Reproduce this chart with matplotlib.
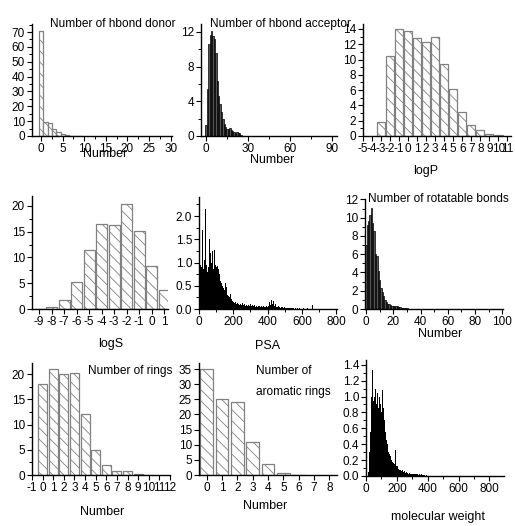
import matplotlib
matplotlib.use("Agg")
import matplotlib.pyplot as plt
from matplotlib.ticker import MultipleLocator, FormatStrFormatter
from matplotlib import font_manager
import numpy as np

# ---------------- data ----------------
donor_x = [0, 1, 2, 3, 4, 5, 6, 7, 8, 9]
donor_y = [70.5, 9.5, 8.5, 4.5, 2.5, 1.2, 0.6, 0.3, 0.15, 0.1]

acc_x = list(range(0, 26))
acc_y = [1.3, 5.4, 10.6, 11.6, 12.1, 11.5, 11.2, 9.6, 6.3, 4.6, 3.7, 2.8, 2.0,
         1.4, 1.0, 0.8, 0.8, 0.9, 0.7, 0.6, 0.5, 0.4, 0.5, 0.4, 0.3, 0.15]

logp_x = [-3, -2, -1, 0, 1, 2, 3, 4, 5, 6, 7, 8, 9, 10]
logp_y = [1.8, 10.5, 14.0, 13.7, 12.8, 12.3, 12.9, 9.4, 6.1, 3.1, 1.5, 0.8, 0.3, 0.1]

logs_x = [-9, -8, -7, -6, -5, -4, -3, -2, -1, 0, 1]
logs_y = [0.05, 0.4, 1.7, 5.3, 11.5, 16.5, 16.3, 20.4, 15.2, 8.4, 3.6]

psa_start = 0
psa_bin = 5
psa_y = [0.45, 0.95, 0.9, 0.75, 1.70, 0.85, 1.05, 2.15, 0.95, 0.8,
         1.1, 0.9, 1.5, 1.2, 1.0, 1.25, 0.85, 1.0, 1.27, 0.95,
         0.9, 0.92, 0.85, 0.75, 0.9, 0.6, 0.55, 0.5, 0.45, 0.4,
         0.55, 0.35, 0.47, 0.3, 0.28, 0.25, 0.32, 0.22, 0.2, 0.18,
         0.15, 0.12, 0.14, 0.1, 0.12, 0.16, 0.1, 0.09, 0.11, 0.08,
         0.12, 0.09, 0.08, 0.1, 0.07, 0.08, 0.06, 0.09, 0.07, 0.06,
         0.1, 0.07, 0.08, 0.06, 0.09, 0.05, 0.07, 0.06, 0.05, 0.07,
         0.06, 0.05, 0.06, 0.04, 0.05, 0.07, 0.05, 0.04, 0.06, 0.05,
         0.12, 0.06, 0.15, 0.08, 0.2, 0.1, 0.17, 0.08, 0.06, 0.1,
         0.05, 0.04, 0.06, 0.05, 0.04, 0.03, 0.05, 0.04, 0.03, 0.04,
         0.03, 0.02, 0.03, 0.02, 0.02, 0.03, 0.02, 0.02, 0.01, 0.02,
         0.02, 0.01, 0.02, 0.01, 0.02, 0.01, 0.01, 0.02, 0.01, 0.01,
         0.01, 0.02, 0.01, 0.01, 0.01, 0.01, 0.02, 0.01, 0.01, 0.01,
         0.01, 0.01, 0.08, 0.01, 0.01, 0.0, 0.01, 0.0, 0.01, 0.0]

rot_x = list(range(0, 41))
rot_y = [7.0, 9.2, 9.6, 10.3, 11.1, 9.4, 8.5, 6.0, 5.8, 4.2, 3.2, 2.3, 1.9, 1.4,
         1.0, 0.8, 0.6, 0.5, 0.4, 0.35, 0.3, 0.3, 0.35, 0.3, 0.25, 0.2, 0.15,
         0.12, 0.1, 0.08, 0.06, 0.05, 0.04, 0.04, 0.03, 0.03, 0.02, 0.02, 0.02,
         0.02, 0.05]

rings_x = [0, 1, 2, 3, 4, 5, 6, 7, 8, 9, 10]
rings_y = [18.0, 21.0, 20.0, 20.2, 12.0, 5.0, 1.9, 0.7, 0.7, 0.2, 0.05]

arom_x = [0, 1, 2, 3, 4, 5, 6]
arom_y = [35.0, 25.2, 24.0, 11.0, 3.5, 0.7, 0.1]

mw_start = 15
mw_bin = 5
mw_y = [0.05, 0.3, 0.55, 0.85, 1.0, 1.34, 0.95, 1.15, 1.0, 1.1,
        0.9, 1.05, 0.95, 0.85, 1.0, 0.9, 1.12, 0.8, 1.08, 0.85,
        0.7, 0.6, 0.55, 0.45, 0.4, 0.35, 0.3, 0.28, 0.25, 0.22,
        0.2, 0.18, 0.16, 0.15, 0.14, 0.33, 0.13, 0.12, 0.1, 0.09,
        0.08, 0.08, 0.07, 0.06, 0.07, 0.05, 0.06, 0.05, 0.04, 0.05,
        0.04, 0.04, 0.03, 0.04, 0.03, 0.03, 0.03, 0.02, 0.03, 0.02,
        0.02, 0.03, 0.02, 0.02, 0.02, 0.01, 0.02, 0.01, 0.02, 0.01,
        0.01, 0.01, 0.01, 0.01, 0.005, 0.01, 0.005, 0.005, 0.005, 0.005]

# ---------------- style ----------------
plt.rcParams['font.family'] = ['Liberation Sans', 'DejaVu Sans']
plt.rcParams['axes.unicode_minus'] = False
plt.rcParams['hatch.linewidth'] = 0.6

names = {f.name for f in font_manager.fontManager.ttflist}
if 'Liberation Sans Narrow' in names:
    TICKFAM = ['Liberation Sans Narrow', 'DejaVu Sans']
    TICKFONT = 9.5
else:
    TICKFAM = ['Liberation Sans', 'DejaVu Sans']
    TICKFONT = 8.5
LABELFONT = 9
TITLEFONT = 8.6

W, H = 515, 526
fig = plt.figure(figsize=(W / 100, H / 100), dpi=100)


def make_ax(x0, x1, y0, y1):
    ax = fig.add_axes([x0 / W, 1 - y1 / H, (x1 - x0) / W, (y1 - y0) / H])
    for s in ('top', 'right'):
        ax.spines[s].set_visible(False)
    for s in ('left', 'bottom'):
        ax.spines[s].set_linewidth(1.0)
    ax.tick_params(which='major', direction='out', length=3.5, width=0.8,
                   labelsize=TICKFONT, pad=1.5)
    ax.tick_params(which='minor', direction='out', length=2, width=0.7)
    ax.patch.set_alpha(0)
    return ax


def finish(ax):
    for lab in ax.get_xticklabels() + ax.get_yticklabels():
        lab.set_family(TICKFAM)


def ftext(x, y, s, size=LABELFONT, **kw):
    fig.text(x / W, 1 - y / H, s, fontsize=size, **kw)


hatch_kw = dict(facecolor='white', edgecolor='#808080', hatch='\\\\\\',
                linewidth=0.9)
dark_kw = dict(facecolor='#555555', edgecolor='black', linewidth=0.5)

# Panel 1: hbond donor
ax = make_ax(32, 172, 24, 136)
ax.bar(donor_x, donor_y, width=1.0, **hatch_kw)
ax.set_xlim(-2.1, 30.3)
ax.set_ylim(0, 75.4)
ax.xaxis.set_major_locator(MultipleLocator(5))
ax.xaxis.set_minor_locator(MultipleLocator(2.5))
ax.yaxis.set_major_locator(MultipleLocator(10))
ax.yaxis.set_minor_locator(MultipleLocator(5))
finish(ax)
ftext(50, 27, 'Number of hbond donor', size=TITLEFONT, va='baseline')
ftext(105.5, 154, 'Number', ha='center', va='center')

# Panel 2: hbond acceptor
ax = make_ax(201, 337, 24, 136)
ax.bar(acc_x, acc_y, width=1.0, **dark_kw)
ax.set_xlim(-3.6, 93.6)
ax.set_ylim(0, 12.9)
ax.xaxis.set_major_locator(MultipleLocator(30))
ax.xaxis.set_minor_locator(MultipleLocator(15))
ax.yaxis.set_major_locator(MultipleLocator(4))
ax.yaxis.set_minor_locator(MultipleLocator(2))
finish(ax)
ftext(210.5, 26.5, 'Number of hbond acceptor', size=TITLEFONT, va='baseline')
ftext(272, 160, 'Number', ha='center', va='center')

# Panel 3: logP
ax = make_ax(363, 511, 24, 136)
ax.bar(logp_x, logp_y, width=0.92, **hatch_kw)
ax.set_xlim(-5, 11.4)
ax.set_ylim(0, 14.65)
ax.set_xticks(range(-5, 12))
ax.yaxis.set_major_locator(MultipleLocator(2))
ax.yaxis.set_minor_locator(MultipleLocator(1))
finish(ax)
ftext(426, 171, 'logP', ha='center', va='center')

# Panel 4: logS
ax = make_ax(32, 168, 196, 309)
ax.bar(logs_x, logs_y, width=0.88, **hatch_kw)
ax.set_xlim(-9.56, 1.3)
ax.set_ylim(0, 21.9)
ax.set_xticks(range(-9, 2))
ax.yaxis.set_major_locator(MultipleLocator(5))
ax.yaxis.set_minor_locator(MultipleLocator(2.5))
finish(ax)
ftext(111, 344, 'logS', ha='center', va='center')

# Panel 5: PSA
ax = make_ax(199, 337, 197, 309)
psa_x = psa_start + psa_bin * np.arange(len(psa_y))
ax.bar(psa_x, psa_y, width=psa_bin, align='edge', color='black', linewidth=0)
ax.set_xlim(0, 805)
ax.set_ylim(0, 2.41)
ax.xaxis.set_major_locator(MultipleLocator(200))
ax.xaxis.set_minor_locator(MultipleLocator(100))
ax.yaxis.set_major_locator(MultipleLocator(0.5))
ax.yaxis.set_minor_locator(MultipleLocator(0.25))
ax.yaxis.set_major_formatter(FormatStrFormatter('%.1f'))
finish(ax)
ftext(268, 346, 'PSA', ha='center', va='center')

# Panel 6: rotatable bonds
ax = make_ax(365, 503, 199, 309)
ax.bar(rot_x, rot_y, width=1.0, **dark_kw)
ax.set_xlim(-0.7, 100.5)
ax.set_ylim(0, 12.05)
ax.xaxis.set_major_locator(MultipleLocator(20))
ax.xaxis.set_minor_locator(MultipleLocator(10))
ax.yaxis.set_major_locator(MultipleLocator(2))
ax.yaxis.set_minor_locator(MultipleLocator(1))
finish(ax)
ftext(368, 201.5, 'Number of rotatable bonds', size=TITLEFONT, va='baseline')
ftext(440, 334, 'Number', ha='center', va='center')

# Panel 7: rings
ax = make_ax(32, 170, 363, 475)
ax.bar(rings_x, rings_y, width=0.85, **hatch_kw)
ax.set_xlim(-1, 12)
ax.set_ylim(0, 22.2)
ax.set_xticks(range(-1, 13))
ax.yaxis.set_major_locator(MultipleLocator(5))
ax.yaxis.set_minor_locator(MultipleLocator(2.5))
finish(ax)
ftext(88, 374, 'Number of rings', size=TITLEFONT, va='baseline')
ftext(102.5, 512, 'Number', ha='center', va='center')

# Panel 8: aromatic rings
ax = make_ax(199, 337, 363, 475)
ax.bar(arom_x, arom_y, width=0.83, **hatch_kw)
ax.set_xlim(-0.5, 8.5)
ax.set_ylim(0, 37)
ax.set_xticks(range(0, 9))
ax.yaxis.set_major_locator(MultipleLocator(5))
finish(ax)
ftext(256, 374, 'Number of', size=TITLEFONT, va='baseline')
ftext(256, 395, 'aromatic rings', size=TITLEFONT, va='baseline')
ftext(265.5, 506, 'Number', ha='center', va='center')

# Panel 9: molecular weight
ax = make_ax(366, 504, 360, 476)
mw_x = mw_start + mw_bin * np.arange(len(mw_y))
ax.bar(mw_x, mw_y, width=mw_bin, align='edge', color='black', linewidth=0)
ax.set_xlim(0, 895)
ax.set_ylim(0, 1.46)
ax.xaxis.set_major_locator(MultipleLocator(200))
ax.xaxis.set_minor_locator(MultipleLocator(100))
ax.yaxis.set_major_locator(MultipleLocator(0.2))
ax.yaxis.set_minor_locator(MultipleLocator(0.1))
ax.yaxis.set_major_formatter(FormatStrFormatter('%.1f'))
finish(ax)
ftext(438, 517, 'molecular weight', ha='center', va='center')

fig.savefig('out.png', dpi=100)
